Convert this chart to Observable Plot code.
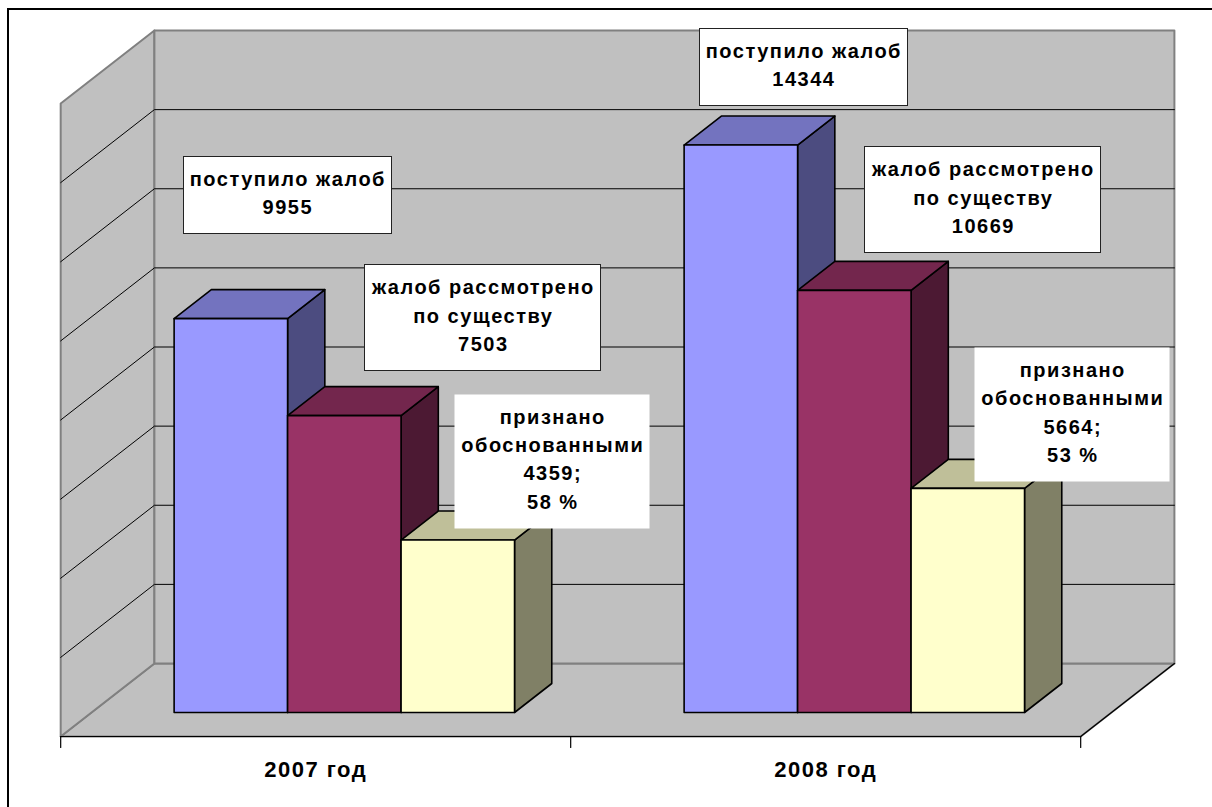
<!DOCTYPE html>
<html>
<head>
<meta charset="utf-8">
<script src="https://cdn.jsdelivr.net/npm/d3@7"></script>
<script src="https://cdn.jsdelivr.net/npm/@observablehq/plot@0.6"></script>
<style>
  html, body { margin: 0; padding: 0; background: #fff; overflow: hidden; }
  #chart { position: relative; width: 1212px; height: 807px; overflow: hidden; }
  #chart svg { position: absolute; left: 0; top: 0; }
  .sheet { position: absolute; left: 7px; top: 8px; width: 1300px; height: 900px;
           border: 2px solid #000; box-sizing: border-box; }
</style>
</head>
<body>
<div id="chart"><div class="sheet"></div></div>
<script>
// Complaints received, examined on the merits and found justified
const years = ["2007 год", "2008 год"];
const received = [9955, 14344];
const reviewed = [7503, 10669];
const justified = [4359, 5664];
const justifiedShare = [58, 53];
const seriesCaptions = [
  ["поступило жалоб"],
  ["жалоб рассмотрено", "по существу"],
  ["признано", "обоснованными"]
];
const valueTicks = [0, 2000, 4000, 6000, 8000, 10000, 12000, 14000, 16000];

// Face shading for each series: front, top, side
const palette = [
  {front: "#9999FF", top: "#7373BF", side: "#4C4C80"},
  {front: "#993366", top: "#73264D", side: "#4C1933"},
  {front: "#FFFFCC", top: "#BFBF99", side: "#808066"}
];

// ---- layout ----
const W = 1212, H = 807;
const margin = {left: 91, right: 101, top: 79, bottom: 95};
const vMax = valueTicks[valueTicks.length - 1];
const unitPx = (W - margin.left - margin.right) / years.length; // pixels per year group
const kPx = (H - margin.top - margin.bottom) / vMax;            // pixels per complaint
const slant = 95 / 74;                 // oblique shift to the right per pixel of depth rise
const depth = {front: -24, bar: 29, back: 49};
const groupInset = 0.162, barWidth = 0.2225;
// label placement relative to the top centre of its bar, in pixels
const labelOffsets = [[57, -128], [139, -102], [95, -83], [63, -82], [129, -95], [105, -78]];

// point in the oblique projection: x in year units, v in complaints, e = depth rise in px
const P = (x, v, e = 0) => ({x: x + e * slant / unitPx, y: v + e / kPx});

function polyRows(polys) {
  const rows = [];
  polys.forEach((p, id) => p.pts.forEach(pt => rows.push({id, fill: p.fill, ...pt})));
  return rows;
}

// walls and floor
const X0 = 0, X1 = years.length;
const walls = polyRows([
  {fill: "#C0C0C0", pts: [P(X0, 0, depth.front), P(X1, 0, depth.front), P(X1, 0, depth.back), P(X0, 0, depth.back)]},
  {fill: "#C0C0C0", pts: [P(X0, 0, depth.front), P(X0, 0, depth.back), P(X0, vMax, depth.back), P(X0, vMax, depth.front)]},
  {fill: "#C0C0C0", pts: [P(X0, 0, depth.back), P(X1, 0, depth.back), P(X1, vMax, depth.back), P(X0, vMax, depth.back)]}
]);

// gridlines running across the side wall and the back wall
const grid = [];
valueTicks.slice(1, -1).forEach(v => {
  [P(X0, v, depth.front), P(X0, v, depth.back), P(X1, v, depth.back)].forEach(pt => grid.push({v, ...pt}));
});

// category axis along the front edge of the floor
const axisLine = [P(X0, 0, depth.front), P(X1, 0, depth.front), P(X1, 0, depth.back)];
const tickRows = [];
d3.range(X0, X1 + 1).forEach(t => {
  const a = P(t, 0, depth.front);
  tickRows.push({t, x: a.x, y: a.y}, {t, x: a.x, y: a.y - 11 / kPx});
});

// bars: side, top, front for each, drawn left to right
const series = [received, reviewed, justified];
const bars = [];
years.forEach((year, i) => series.forEach((vals, s) => {
  const x1 = i + groupInset + s * barWidth, x2 = x1 + barWidth, v = vals[i];
  bars.push({i, s, x1, x2, v});
}));
const barPolys = [];
bars.forEach(b => {
  const c = palette[b.s];
  barPolys.push(
    {fill: c.side, pts: [P(b.x2, 0), P(b.x2, 0, depth.bar), P(b.x2, b.v, depth.bar), P(b.x2, b.v)]},
    {fill: c.top, pts: [P(b.x1, b.v), P(b.x2, b.v), P(b.x2, b.v, depth.bar), P(b.x1, b.v, depth.bar)]},
    {fill: c.front, pts: [P(b.x1, 0), P(b.x2, 0), P(b.x2, b.v), P(b.x1, b.v)]}
  );
});
const barRows = polyRows(barPolys);

// data labels
const labels = bars.map((b, n) => {
  const [ox, oy] = labelOffsets[n];
  const lines = [...seriesCaptions[b.s], String(b.v) + (b.s === 2 ? ";" : "")];
  if (b.s === 2) lines.push(justifiedShare[b.i] + " %");
  return {
    x: (b.x1 + b.x2) / 2 + ox / unitPx,
    y: b.v - oy / kPx,
    text: lines.join("\n"),
    boxed: b.s !== 2
  };
});

const font = "'Liberation Sans', Arial, sans-serif";

const svg = Plot.plot({
  width: W, height: H,
  marginLeft: margin.left, marginRight: margin.right,
  marginTop: margin.top, marginBottom: margin.bottom,
  x: {domain: [X0, X1], axis: null},
  y: {domain: [0, vMax], axis: null},
  color: {type: "identity"},
  style: {fontFamily: font, background: "transparent", overflow: "visible"},
  marks: [
    Plot.line(walls, {x: "x", y: "y", z: "id", fill: "fill", stroke: "#808080", strokeWidth: 2, curve: "linear-closed"}),
    Plot.line(grid, {x: "x", y: "y", z: "v", stroke: "#000", strokeWidth: 1}),
    Plot.line(axisLine, {x: "x", y: "y", stroke: "#000", strokeWidth: 1.2}),
    Plot.line(tickRows, {x: "x", y: "y", z: "t", stroke: "#000", strokeWidth: 1.2}),
    Plot.line(barRows, {x: "x", y: "y", z: "id", fill: "fill", stroke: "#000", strokeWidth: 1.6, strokeLinejoin: "round", curve: "linear-closed"}),
    Plot.text(labels, {x: "x", y: "y", text: "text", fontSize: 20, fontWeight: "bold", lineHeight: 1.42, fill: "#000", ariaLabel: "data labels"}),
    Plot.text(years, {x: (d, i) => i + 0.5 + depth.front * slant / unitPx, y: () => 0, dy: 57, text: d => d, fontSize: 22, fontWeight: "bold", fill: "#000", ariaLabel: "year labels"})
  ]
});
svg.querySelectorAll("text").forEach(t => t.style.letterSpacing = "1.5px");
document.getElementById("chart").appendChild(svg);

// white callout boxes behind the data labels
let group = svg.querySelector('g[aria-label="data labels"]');
if (!group) group = svg.querySelectorAll('g[aria-label="text"]')[0];
const base = svg.getBoundingClientRect();
const ns = "http://www.w3.org/2000/svg";
group.querySelectorAll("text").forEach((t, n) => {
  const r = t.getBoundingClientRect();
  const rect = document.createElementNS(ns, "rect");
  rect.setAttribute("x", Math.round(r.left - base.left - 7) + 0.5);
  rect.setAttribute("y", Math.round(r.top - base.top - 12) + 0.5);
  rect.setAttribute("width", Math.round(r.width + 12));
  rect.setAttribute("height", Math.round(r.height + 27));
  rect.setAttribute("fill", "#fff");
  if (labels[n].boxed) {
    rect.setAttribute("stroke", "#222");
    rect.setAttribute("stroke-width", 1);
  }
  svg.insertBefore(rect, group);
});
</script>
</body>
</html>
